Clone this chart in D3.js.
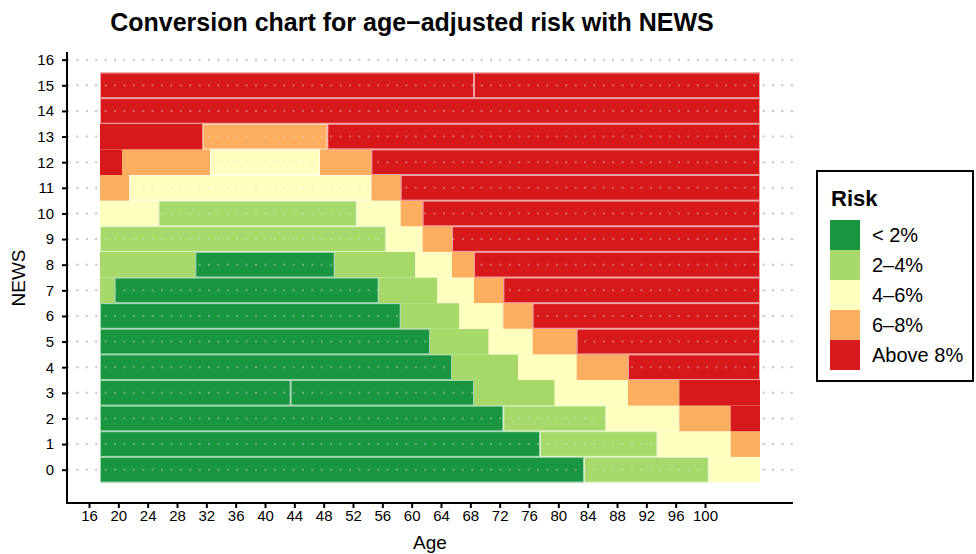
<!DOCTYPE html>
<html><head><meta charset="utf-8">
<script src="https://cdn.jsdelivr.net/npm/d3@7"></script>
<style>body{margin:0;background:#fff}svg{display:block;font-family:"Liberation Sans",Arial,Helvetica,sans-serif}</style>
</head><body><svg id="c" width="976" height="554"></svg>
<script>
const riskLabels = ["< 2%", "2–4%", "4–6%", "6–8%", "Above 8%"];
const xTicks = [16,20,24,28,32,36,40,44,48,52,56,60,64,68,72,76,80,84,88,92,96,100];
const yTicks = [0,1,2,3,4,5,6,7,8,9,10,11,12,13,14,15,16];
// [NEWS, first age, last age, risk category index, outlined]
const segments = [
  [0,18,83,0,1],[0,84,100,1,1],[0,101,107,2,0],
  [1,18,77,0,1],[1,78,93,1,1],[1,94,103,2,0],[1,104,107,3,0],
  [2,18,72,0,1],[2,73,86,1,1],[2,87,96,2,0],[2,97,103,3,0],[2,104,107,4,0],
  [3,18,43,0,1],[3,44,68,0,1],[3,69,79,1,0],[3,80,89,2,0],[3,90,96,3,0],[3,97,107,4,0],
  [4,18,65,0,1],[4,66,74,1,0],[4,75,82,2,0],[4,83,89,3,0],[4,90,107,4,1],
  [5,18,62,0,1],[5,63,70,1,0],[5,71,76,2,0],[5,77,82,3,0],[5,83,107,4,1],
  [6,18,58,0,1],[6,59,66,1,0],[6,67,72,2,0],[6,73,76,3,0],[6,77,107,4,1],
  [7,18,19,1,0],[7,20,55,0,1],[7,56,63,1,0],[7,64,68,2,0],[7,69,72,3,0],[7,73,107,4,1],
  [8,18,30,1,0],[8,31,49,0,1],[8,50,60,1,0],[8,61,65,2,0],[8,66,68,3,0],[8,69,107,4,1],
  [9,18,56,1,1],[9,57,61,2,0],[9,62,65,3,0],[9,66,107,4,1],
  [10,18,25,2,0],[10,26,52,1,1],[10,53,58,2,0],[10,59,61,3,0],[10,62,107,4,1],
  [11,18,21,3,0],[11,22,54,2,1],[11,55,58,3,0],[11,59,107,4,1],
  [12,18,20,4,0],[12,21,32,3,0],[12,33,47,2,1],[12,48,54,3,0],[12,55,107,4,1],
  [13,18,31,4,0],[13,32,48,3,1],[13,49,107,4,1],
  [14,18,107,4,1],
  [15,18,68,4,1],[15,69,107,4,1]
];
const riskColors = ["#1a9641","#a6d96a","#ffffbf","#fdae61","#d7191c"];

const svg = d3.select("#c");
const L = 67, R = 793, T = 52, B = 503;
const x = d3.scaleLinear().domain([13,112]).range([L,R]);
const y = d3.scaleLinear().domain([-1.3,16.3]).range([B,T]);
const period = 9.4;

// grid
svg.append("g").selectAll("line").data(yTicks).join("line")
  .attr("x1",L).attr("x2",R).attr("y1",d=>y(d)).attr("y2",d=>y(d))
  .attr("stroke","#c4c4c4").attr("stroke-width",2).attr("stroke-dasharray","2,"+(period-2));

// tiles
const segG = svg.append("g");
segG.selectAll("rect").data(segments).join("rect")
  .attr("x",d=>x(d[1]-0.5)).attr("width",d=>x(d[2]+0.5)-x(d[1]-0.5))
  .attr("y",d=>y(d[0]+0.5)).attr("height",d=>y(d[0]-0.5)-y(d[0]+0.5))
  .attr("fill",d=>riskColors[d[3]]);
const boxed = segments.filter(d=>d[4]);
segG.append("g").selectAll("line").data(boxed).join("line")
  .attr("x1",d=>x(d[1]-0.5)).attr("x2",d=>x(d[2]+0.5))
  .attr("y1",d=>y(d[0])).attr("y2",d=>y(d[0]))
  .attr("stroke","#d8d8d8").attr("stroke-opacity",0.4).attr("stroke-width",2)
  .attr("stroke-dasharray","2,"+(period-2))
  .attr("stroke-dashoffset",d=>((x(d[1]-0.5)-L)%period));
segG.append("g").selectAll("rect").data(boxed).join("rect")
  .attr("x",d=>x(d[1]-0.5)+0.5).attr("width",d=>x(d[2]+0.5)-x(d[1]-0.5)-1)
  .attr("y",d=>y(d[0]+0.5)+0.5).attr("height",d=>y(d[0]-0.5)-y(d[0]+0.5)-1)
  .attr("fill","none").attr("stroke","#fff").attr("stroke-opacity",0.6).attr("stroke-width",1);

// axes
const xa = svg.append("g").attr("transform",`translate(0,${B})`)
  .call(d3.axisBottom(x).tickValues(xTicks).tickSize(5).tickPadding(2).tickSizeOuter(0));
const ya = svg.append("g").attr("transform",`translate(${L},0)`)
  .call(d3.axisLeft(y).tickValues(yTicks).tickSize(5).tickPadding(8).tickSizeOuter(0));
[xa,ya].forEach(a=>{
  a.select(".domain").attr("stroke","#000").attr("stroke-width",2);
  a.selectAll(".tick line").attr("stroke","#000").attr("stroke-width",2);
  a.selectAll(".tick text").attr("fill","#000").attr("font-size",15).attr("font-family","Liberation Sans, Arial, sans-serif");
});
ya.select(".domain").attr("d",`M0,${T}V${B+1}`);
xa.select(".domain").attr("d",`M${L-1},0H${R}`);

// titles
svg.append("text").attr("x",412).attr("y",31).attr("text-anchor","middle")
  .attr("font-size",25).attr("font-weight","bold").text("Conversion chart for age\u2212adjusted risk with NEWS");
svg.append("text").attr("x",430).attr("y",549).attr("text-anchor","middle").attr("font-size",19).text("Age");
svg.append("text").attr("transform","translate(25,278) rotate(-90)").attr("text-anchor","middle").attr("font-size",19).text("NEWS");

// legend
const lg = svg.append("g");
lg.append("rect").attr("x",817).attr("y",171).attr("width",156).attr("height",210)
  .attr("fill","#fff").attr("stroke","#000").attr("stroke-width",2);
lg.append("text").attr("x",831).attr("y",206).attr("font-size",22).attr("font-weight","bold").text("Risk");
const ly = d3.scaleBand().domain(d3.range(riskLabels.length)).range([220,370]);
lg.selectAll("rect.sw").data(riskLabels).join("rect").attr("class","sw")
  .attr("x",830).attr("width",30).attr("y",(d,i)=>ly(i)).attr("height",ly.bandwidth())
  .attr("fill",(d,i)=>riskColors[i]);
lg.selectAll("text.lb").data(riskLabels).join("text").attr("class","lb")
  .attr("x",872).attr("y",(d,i)=>ly(i)+ly.bandwidth()/2+7).attr("font-size",20).text(d=>d);
</script></body></html>
